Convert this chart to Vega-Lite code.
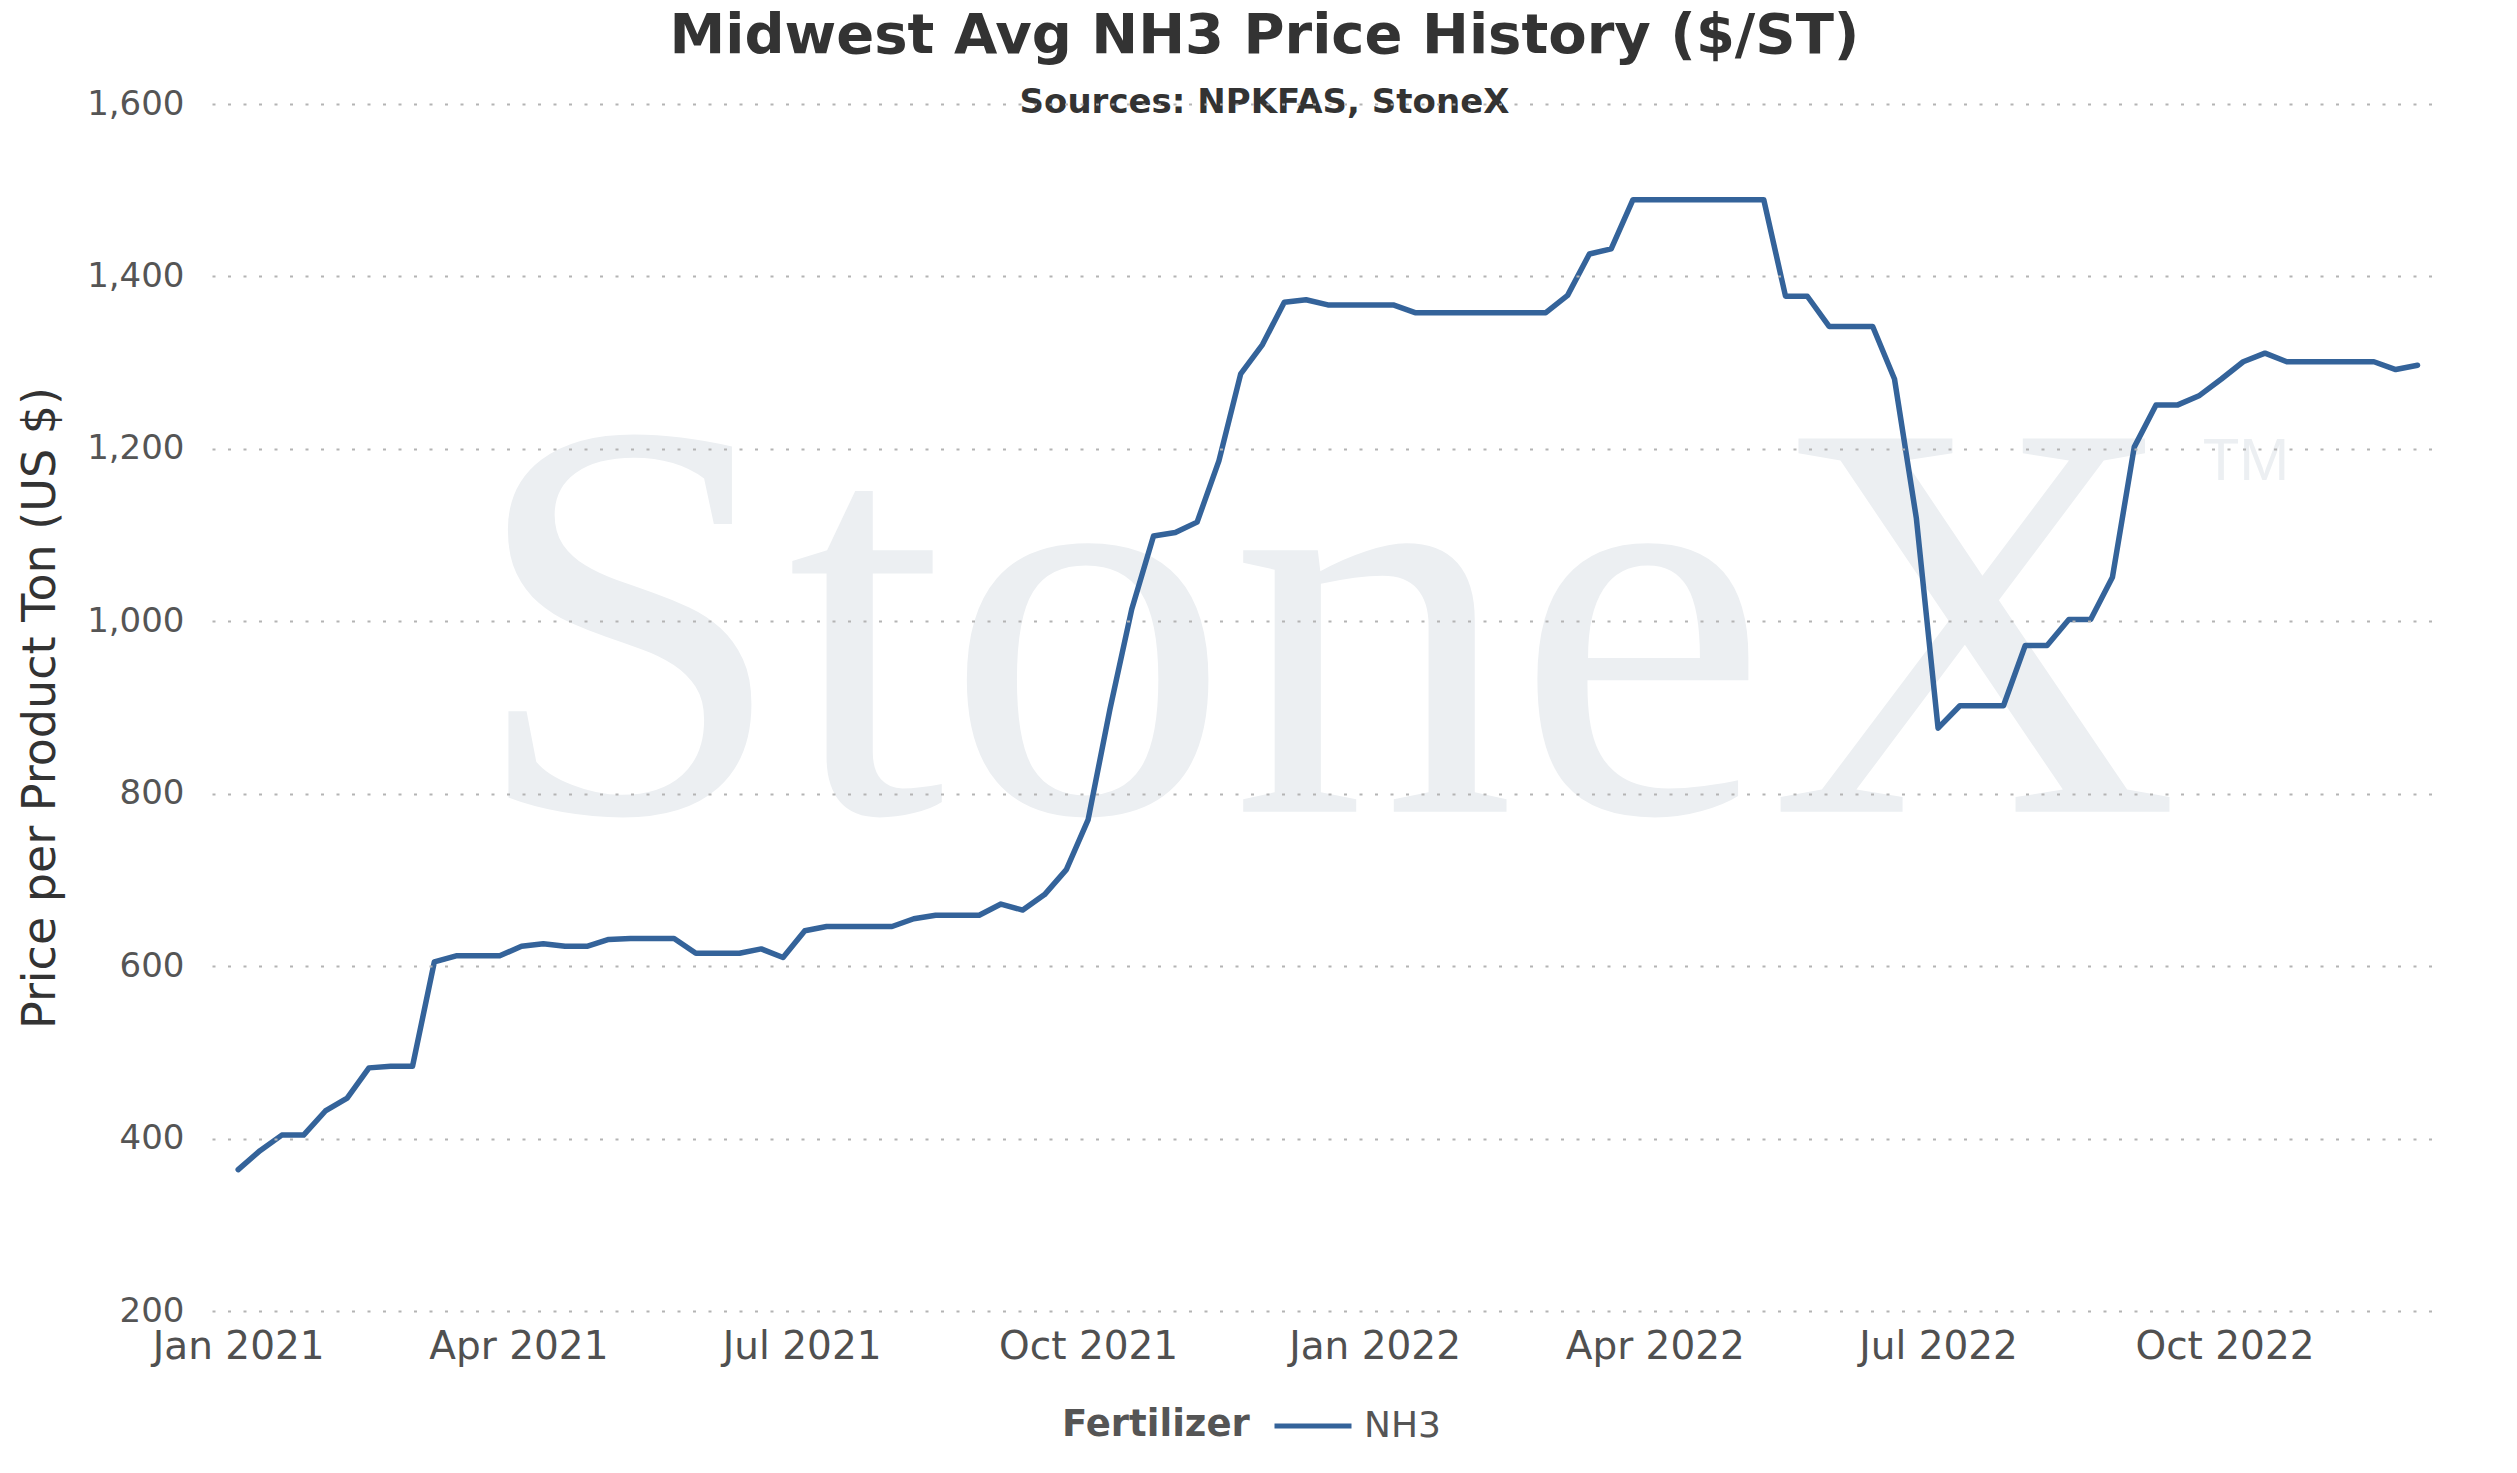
{
  "$schema": "https://vega.github.io/schema/vega-lite/v6.json",
  "autosize": {"type": "none"},
  "padding": {"left": 212, "top": 104, "right": 80, "bottom": 162},
  "width": 2225,
  "height": 1207,
  "background": "white",
  "title": {
    "text": "Midwest Avg NH3 Price History ($/ST)",
    "subtitle": "Sources: NPKFAS, StoneX",
    "anchor": "middle",
    "frame": "group",
    "dx": -60,
    "offset": -34,
    "font": "DejaVu Sans",
    "fontSize": 56,
    "fontWeight": "bold",
    "color": "#333333",
    "subtitleFont": "DejaVu Sans",
    "subtitleFontSize": 34,
    "subtitleFontWeight": "bold",
    "subtitleColor": "#333333",
    "subtitlePadding": 21
  },
  "data": {
    "values": [
      {"date": "2021-01-01", "price": 364, "fertilizer": "NH3"},
      {"date": "2021-01-08", "price": 386, "fertilizer": "NH3"},
      {"date": "2021-01-15", "price": 404, "fertilizer": "NH3"},
      {"date": "2021-01-22", "price": 404, "fertilizer": "NH3"},
      {"date": "2021-01-29", "price": 432, "fertilizer": "NH3"},
      {"date": "2021-02-05", "price": 447, "fertilizer": "NH3"},
      {"date": "2021-02-12", "price": 482, "fertilizer": "NH3"},
      {"date": "2021-02-19", "price": 484, "fertilizer": "NH3"},
      {"date": "2021-02-26", "price": 484, "fertilizer": "NH3"},
      {"date": "2021-03-05", "price": 605, "fertilizer": "NH3"},
      {"date": "2021-03-12", "price": 612, "fertilizer": "NH3"},
      {"date": "2021-03-19", "price": 612, "fertilizer": "NH3"},
      {"date": "2021-03-26", "price": 612, "fertilizer": "NH3"},
      {"date": "2021-04-02", "price": 623, "fertilizer": "NH3"},
      {"date": "2021-04-09", "price": 626, "fertilizer": "NH3"},
      {"date": "2021-04-16", "price": 623, "fertilizer": "NH3"},
      {"date": "2021-04-23", "price": 623, "fertilizer": "NH3"},
      {"date": "2021-04-30", "price": 631, "fertilizer": "NH3"},
      {"date": "2021-05-07", "price": 632, "fertilizer": "NH3"},
      {"date": "2021-05-14", "price": 632, "fertilizer": "NH3"},
      {"date": "2021-05-21", "price": 632, "fertilizer": "NH3"},
      {"date": "2021-05-28", "price": 615, "fertilizer": "NH3"},
      {"date": "2021-06-04", "price": 615, "fertilizer": "NH3"},
      {"date": "2021-06-11", "price": 615, "fertilizer": "NH3"},
      {"date": "2021-06-18", "price": 620, "fertilizer": "NH3"},
      {"date": "2021-06-25", "price": 610, "fertilizer": "NH3"},
      {"date": "2021-07-02", "price": 641, "fertilizer": "NH3"},
      {"date": "2021-07-09", "price": 646, "fertilizer": "NH3"},
      {"date": "2021-07-16", "price": 646, "fertilizer": "NH3"},
      {"date": "2021-07-23", "price": 646, "fertilizer": "NH3"},
      {"date": "2021-07-30", "price": 646, "fertilizer": "NH3"},
      {"date": "2021-08-06", "price": 655, "fertilizer": "NH3"},
      {"date": "2021-08-13", "price": 659, "fertilizer": "NH3"},
      {"date": "2021-08-20", "price": 659, "fertilizer": "NH3"},
      {"date": "2021-08-27", "price": 659, "fertilizer": "NH3"},
      {"date": "2021-09-03", "price": 672, "fertilizer": "NH3"},
      {"date": "2021-09-10", "price": 665, "fertilizer": "NH3"},
      {"date": "2021-09-17", "price": 683, "fertilizer": "NH3"},
      {"date": "2021-09-24", "price": 712, "fertilizer": "NH3"},
      {"date": "2021-10-01", "price": 770, "fertilizer": "NH3"},
      {"date": "2021-10-08", "price": 898, "fertilizer": "NH3"},
      {"date": "2021-10-15", "price": 1014, "fertilizer": "NH3"},
      {"date": "2021-10-22", "price": 1099, "fertilizer": "NH3"},
      {"date": "2021-10-29", "price": 1103, "fertilizer": "NH3"},
      {"date": "2021-11-05", "price": 1115, "fertilizer": "NH3"},
      {"date": "2021-11-12", "price": 1186, "fertilizer": "NH3"},
      {"date": "2021-11-19", "price": 1287, "fertilizer": "NH3"},
      {"date": "2021-11-26", "price": 1321, "fertilizer": "NH3"},
      {"date": "2021-12-03", "price": 1370, "fertilizer": "NH3"},
      {"date": "2021-12-10", "price": 1373, "fertilizer": "NH3"},
      {"date": "2021-12-17", "price": 1367, "fertilizer": "NH3"},
      {"date": "2021-12-24", "price": 1367, "fertilizer": "NH3"},
      {"date": "2021-12-31", "price": 1367, "fertilizer": "NH3"},
      {"date": "2022-01-07", "price": 1367, "fertilizer": "NH3"},
      {"date": "2022-01-14", "price": 1358, "fertilizer": "NH3"},
      {"date": "2022-01-21", "price": 1358, "fertilizer": "NH3"},
      {"date": "2022-01-28", "price": 1358, "fertilizer": "NH3"},
      {"date": "2022-02-04", "price": 1358, "fertilizer": "NH3"},
      {"date": "2022-02-11", "price": 1358, "fertilizer": "NH3"},
      {"date": "2022-02-18", "price": 1358, "fertilizer": "NH3"},
      {"date": "2022-02-25", "price": 1358, "fertilizer": "NH3"},
      {"date": "2022-03-04", "price": 1378, "fertilizer": "NH3"},
      {"date": "2022-03-11", "price": 1426, "fertilizer": "NH3"},
      {"date": "2022-03-18", "price": 1432, "fertilizer": "NH3"},
      {"date": "2022-03-25", "price": 1489, "fertilizer": "NH3"},
      {"date": "2022-04-01", "price": 1489, "fertilizer": "NH3"},
      {"date": "2022-04-08", "price": 1489, "fertilizer": "NH3"},
      {"date": "2022-04-15", "price": 1489, "fertilizer": "NH3"},
      {"date": "2022-04-22", "price": 1489, "fertilizer": "NH3"},
      {"date": "2022-04-29", "price": 1489, "fertilizer": "NH3"},
      {"date": "2022-05-06", "price": 1489, "fertilizer": "NH3"},
      {"date": "2022-05-13", "price": 1377, "fertilizer": "NH3"},
      {"date": "2022-05-20", "price": 1377, "fertilizer": "NH3"},
      {"date": "2022-05-27", "price": 1342, "fertilizer": "NH3"},
      {"date": "2022-06-03", "price": 1342, "fertilizer": "NH3"},
      {"date": "2022-06-10", "price": 1342, "fertilizer": "NH3"},
      {"date": "2022-06-17", "price": 1281, "fertilizer": "NH3"},
      {"date": "2022-06-24", "price": 1120, "fertilizer": "NH3"},
      {"date": "2022-07-01", "price": 876, "fertilizer": "NH3"},
      {"date": "2022-07-08", "price": 902, "fertilizer": "NH3"},
      {"date": "2022-07-15", "price": 902, "fertilizer": "NH3"},
      {"date": "2022-07-22", "price": 902, "fertilizer": "NH3"},
      {"date": "2022-07-29", "price": 972, "fertilizer": "NH3"},
      {"date": "2022-08-05", "price": 972, "fertilizer": "NH3"},
      {"date": "2022-08-12", "price": 1002, "fertilizer": "NH3"},
      {"date": "2022-08-19", "price": 1002, "fertilizer": "NH3"},
      {"date": "2022-08-26", "price": 1051, "fertilizer": "NH3"},
      {"date": "2022-09-02", "price": 1202, "fertilizer": "NH3"},
      {"date": "2022-09-09", "price": 1251, "fertilizer": "NH3"},
      {"date": "2022-09-16", "price": 1251, "fertilizer": "NH3"},
      {"date": "2022-09-23", "price": 1262, "fertilizer": "NH3"},
      {"date": "2022-09-30", "price": 1281, "fertilizer": "NH3"},
      {"date": "2022-10-07", "price": 1301, "fertilizer": "NH3"},
      {"date": "2022-10-14", "price": 1311, "fertilizer": "NH3"},
      {"date": "2022-10-21", "price": 1301, "fertilizer": "NH3"},
      {"date": "2022-10-28", "price": 1301, "fertilizer": "NH3"},
      {"date": "2022-11-04", "price": 1301, "fertilizer": "NH3"},
      {"date": "2022-11-11", "price": 1301, "fertilizer": "NH3"},
      {"date": "2022-11-18", "price": 1301, "fertilizer": "NH3"},
      {"date": "2022-11-25", "price": 1292, "fertilizer": "NH3"},
      {"date": "2022-12-02", "price": 1297, "fertilizer": "NH3"}
    ]
  },
  "layer": [
    {
      "data": {"values": [{"label": "StoneX"}]},
      "mark": {
        "type": "text",
        "font": "Liberation Serif",
        "fontSize": 570,
        "color": "#ECEFF2",
        "align": "center",
        "baseline": "alphabetic"
      },
      "encoding": {
        "x": {"datum": {"year": 2021, "month": 12, "date": 16, "utc": true}, "type": "temporal", "title": null},
        "y": {"datum": 779, "type": "quantitative", "title": "Price per Product Ton (US $)"},
        "text": {"field": "label"}
      }
    },
    {
      "data": {"values": [{"label": "TM"}]},
      "mark": {
        "type": "text",
        "font": "Liberation Sans",
        "fontSize": 60,
        "color": "#ECEFF2",
        "align": "left",
        "baseline": "alphabetic"
      },
      "encoding": {
        "x": {"datum": {"year": 2022, "month": 9, "date": 24, "utc": true}, "type": "temporal", "title": null},
        "y": {"datum": 1164, "type": "quantitative", "title": "Price per Product Ton (US $)"},
        "text": {"field": "label"}
      }
    },
    {
      "mark": {"type": "line", "strokeWidth": 5.5, "strokeJoin": "round", "strokeCap": "round"},
      "encoding": {
        "x": {
          "field": "date",
          "type": "temporal",
          "title": null,
          "scale": {
            "type": "utc",
            "domain": [
              {"year": 2020, "month": 12, "date": 23, "hours": 14, "utc": true},
              {"year": 2022, "month": 12, "date": 8, "hours": 6, "utc": true}
            ]
          },
          "axis": {
            "format": "%b %Y",
            "tickCount": {"interval": "month", "step": 3},
            "labelFont": "DejaVu Sans",
            "labelFontSize": 39,
            "labelColor": "#505050",
            "labelPadding": 16,
            "labelFlush": false,
            "labelOverlap": false,
            "ticks": false,
            "domain": false,
            "grid": false
          }
        },
        "y": {
          "field": "price",
          "type": "quantitative",
          "title": "Price per Product Ton (US $)",
          "scale": {"domain": [200, 1600], "nice": false, "zero": false},
          "axis": {
            "titleFont": "DejaVu Sans",
            "titleFontSize": 46,
            "titleFontWeight": "normal",
            "titleColor": "#333333",
            "titlePadding": 22,
            "values": [200, 400, 600, 800, 1000, 1200, 1400, 1600],
            "format": ",.0f",
            "labelFont": "DejaVu Sans",
            "labelFontSize": 34,
            "labelColor": "#555555",
            "labelPadding": 28,
            "ticks": false,
            "domain": false,
            "grid": true,
            "gridColor": "#b4b4b4",
            "gridDash": [3, 12.5],
            "gridWidth": 2,
            "zindex": 1
          }
        },
        "color": {
          "field": "fertilizer",
          "type": "nominal",
          "scale": {"domain": ["NH3"], "range": ["#34639A"]},
          "legend": {
            "orient": "none",
            "legendX": 850,
            "legendY": 1281,
            "direction": "horizontal",
            "title": "Fertilizer",
            "titleOrient": "left",
            "titleAnchor": "end",
            "titleBaseline": "bottom",
            "titleLimit": 500,
            "titleFont": "DejaVu Sans",
            "titleFontSize": 37,
            "titleFontWeight": "bold",
            "titleColor": "#555555",
            "titlePadding": 22,
            "labelFont": "DejaVu Sans",
            "labelFontSize": 36,
            "labelColor": "#555555",
            "labelOffset": 10,
            "symbolType": "stroke",
            "symbolSize": 5929,
            "symbolStrokeWidth": 5
          }
        }
      }
    }
  ],
  "config": {
    "view": {"stroke": null}
  }
}
